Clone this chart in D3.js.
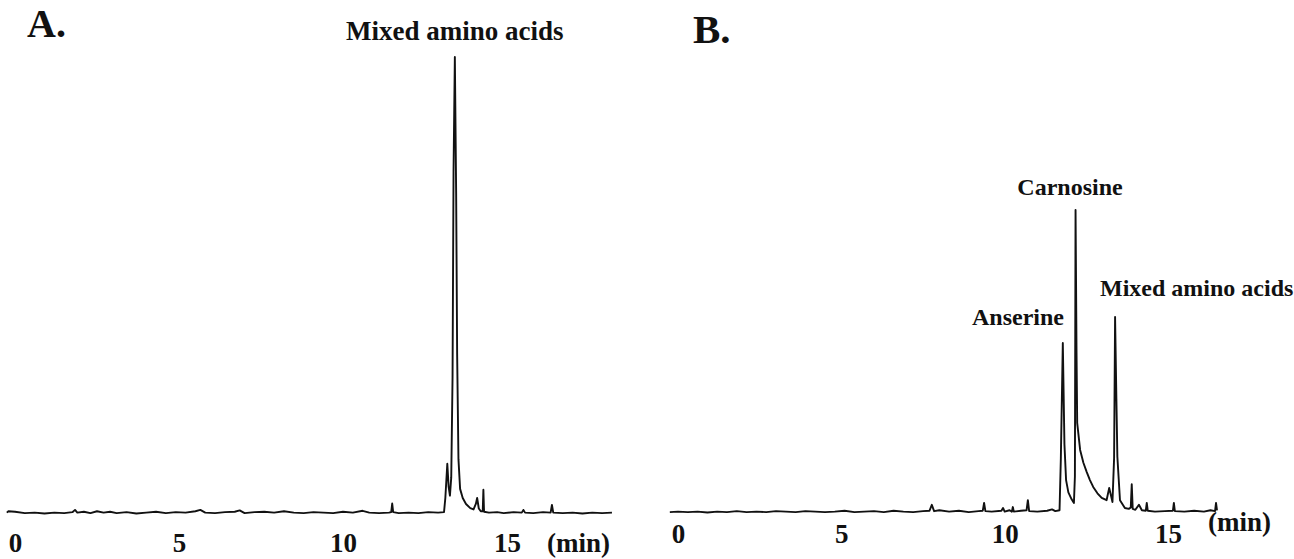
<!DOCTYPE html>
<html>
<head>
<meta charset="utf-8">
<script src="https://cdn.jsdelivr.net/npm/d3@7"></script>
<style>
  html, body { margin: 0; padding: 0; background: #fff; }
  svg { display: block; }
  text { font-family: "Liberation Serif", "Times New Roman", Times, serif; font-weight: bold; fill: #111; }
</style>
</head>
<body>
<svg id="chart" width="1294" height="559"></svg>
<script>
// ---------- DATA ----------
// Panel A: retention time (min) and detector signal (% of the largest peak)
const timeA = [-0.25,-0.2,0.0,0.3,0.6,0.9,1.2,1.5,1.75,1.83,1.9,2.1,2.3,2.5,2.7,2.9,3.1,3.4,3.7,4.0,4.3,4.6,4.9,5.2,5.5,5.65,5.8,6.1,6.4,6.7,6.85,7.0,7.3,7.6,7.9,8.2,8.5,8.8,9.1,9.4,9.7,10.0,10.3,10.6,10.8,11.1,11.4,11.47,11.5,11.53,11.7,12.0,12.3,12.6,12.9,13.08,13.12,13.18,13.22,13.26,13.3,13.34,13.37,13.41,13.45,13.48,13.52,13.57,13.65,13.75,13.88,13.98,14.05,14.09,14.14,14.2,14.26,14.28,14.3,14.45,14.7,14.9,15.2,15.45,15.5,15.55,15.8,16.1,16.33,16.37,16.41,16.7,17.0,17.3,17.6,17.9,18.2];
const signalA = [0.3,0.6,0.5,0.2,0.3,0.1,0.3,0.2,0.4,0.9,0.3,0.5,0.2,0.6,0.3,0.5,0.2,0.4,0.1,0.3,0.5,0.2,0.4,0.3,0.6,0.9,0.3,0.2,0.4,0.5,0.8,0.2,0.4,0.5,0.3,0.6,0.3,0.2,0.4,0.3,0.2,0.5,0.3,0.7,0.3,0.2,0.3,0.4,2.3,0.4,0.2,0.3,0.2,0.4,0.3,0.4,3.5,11.0,6.0,4.0,8.0,30,75,100,70,35,12,5.5,3.5,2.2,1.3,1.0,2.2,3.5,1.2,0.6,0.6,5.3,0.5,0.3,0.4,0.2,0.4,0.3,0.9,0.3,0.2,0.4,0.3,2.0,0.3,0.2,0.3,0.1,0.3,0.2,0.3];

// Panel B
const timeB = [-0.25,0.0,0.3,0.6,0.9,1.2,1.5,1.8,2.1,2.4,2.7,3.0,3.3,3.6,3.9,4.2,4.5,4.8,5.1,5.4,5.7,6.0,6.3,6.6,6.9,7.2,7.5,7.7,7.77,7.84,8.0,8.3,8.6,8.9,9.2,9.33,9.37,9.41,9.6,9.9,9.95,10.0,10.15,10.22,10.25,10.28,10.5,10.67,10.71,10.75,11.0,11.3,11.45,11.55,11.68,11.72,11.78,11.83,11.88,11.95,12.05,12.12,12.15,12.17,12.2,12.22,12.31,12.41,12.51,12.61,12.71,12.84,12.97,13.12,13.2,13.3,13.35,13.38,13.42,13.45,13.53,13.68,13.8,13.86,13.89,13.92,14.0,14.11,14.2,14.32,14.35,14.38,14.6,14.9,15.15,15.18,15.21,15.5,15.8,16.1,16.3,16.44,16.47,16.5];
const signalB = [0.2,0.3,0.2,0.3,0.1,0.3,0.2,0.4,0.2,0.3,0.2,0.4,0.3,0.2,0.4,0.3,0.2,0.3,0.5,0.2,0.3,0.4,0.2,0.5,0.3,0.2,0.4,0.5,1.8,0.4,0.6,0.3,0.5,0.2,0.4,0.5,2.2,0.4,0.3,0.5,1.1,0.3,0.6,0.3,1.3,0.3,0.5,0.6,2.8,0.4,0.3,0.5,0.8,0.4,0.6,12,37.2,15,7.2,4.5,3.0,2.2,8,66.3,35,19.7,13.8,11.0,9.0,7.2,5.7,4.3,3.3,2.8,5.5,2.4,12,42.9,25,12.3,2.8,1.1,0.9,1.2,6.3,0.9,0.7,1.8,0.6,0.5,2.2,0.5,0.3,0.4,0.5,2.2,0.4,0.3,0.5,0.3,0.6,0.4,2.2,0.6];

const tickValues = [0, 5, 10, 15];
const panelLetters = ["A.", "B."];
const peakLabelsA = ["Mixed amino acids"];
const peakLabelsB = ["Anserine", "Carnosine", "Mixed amino acids"];
const unitLabel = "(min)";

// ---------- DRAWING ----------
const svg = d3.select("#chart");

const xA = d3.scaleLinear().domain([0, 15]).range([15, 507]);
const yA = d3.scaleLinear().domain([0, 100]).range([514, 57]);
const xB = d3.scaleLinear().domain([0, 15]).range([678, 1168]);
const yB = d3.scaleLinear().domain([0, 100]).range([513, 56]);

function trace(times, vals, x, y) {
  const pts = times.map((t, i) => [t, vals[i]]);
  svg.append("path")
    .datum(pts)
    .attr("fill", "none")
    .attr("stroke", "#111")
    .attr("stroke-width", 1.9)
    .attr("stroke-linejoin", "round")
    .attr("d", d3.line().x(d => x(d[0])).y(d => y(d[1])));
}
trace(timeA, signalA, xA, yA);
trace(timeB, signalB, xB, yB);

function axis(x, yPos) {
  const g = svg.append("g")
    .attr("transform", `translate(0,${yPos})`)
    .call(d3.axisBottom(x).tickValues(tickValues).tickSize(0).tickPadding(0).tickFormat(d3.format("d")));
  g.select(".domain").remove();
  g.selectAll("text")
    .attr("dy", 0).attr("y", 0)
    .attr("fill", "#111")
    .style("font-family", '"Liberation Serif", "Times New Roman", serif')
    .style("font-weight", "bold")
    .style("font-size", "27px");
}
axis(xA, 552);
axis(xB, 543);

svg.append("text").attr("x", 547).attr("y", 552).style("font-size", "27px").text(unitLabel);
svg.append("text").attr("x", 1208).attr("y", 531).style("font-size", "27px").text(unitLabel);

// panel letters
svg.append("text").attr("x", 27).attr("y", 37).style("font-size", "40px").text(panelLetters[0]);
svg.append("text").attr("x", 693).attr("y", 43).style("font-size", "41px").text(panelLetters[1]);

// peak labels
svg.append("text").attr("x", xA(13.41)).attr("y", 40).attr("text-anchor", "middle")
  .style("font-size", "27px").text(peakLabelsA[0]);
svg.append("text").attr("x", 1064).attr("y", 325).attr("text-anchor", "end")
  .style("font-size", "24px").text(peakLabelsB[0]);
svg.append("text").attr("x", 1070).attr("y", 195).attr("text-anchor", "middle")
  .style("font-size", "24px").text(peakLabelsB[1]);
svg.append("text").attr("x", 1100).attr("y", 296).attr("text-anchor", "start")
  .style("font-size", "24px").text(peakLabelsB[2]);
</script>
</body>
</html>
